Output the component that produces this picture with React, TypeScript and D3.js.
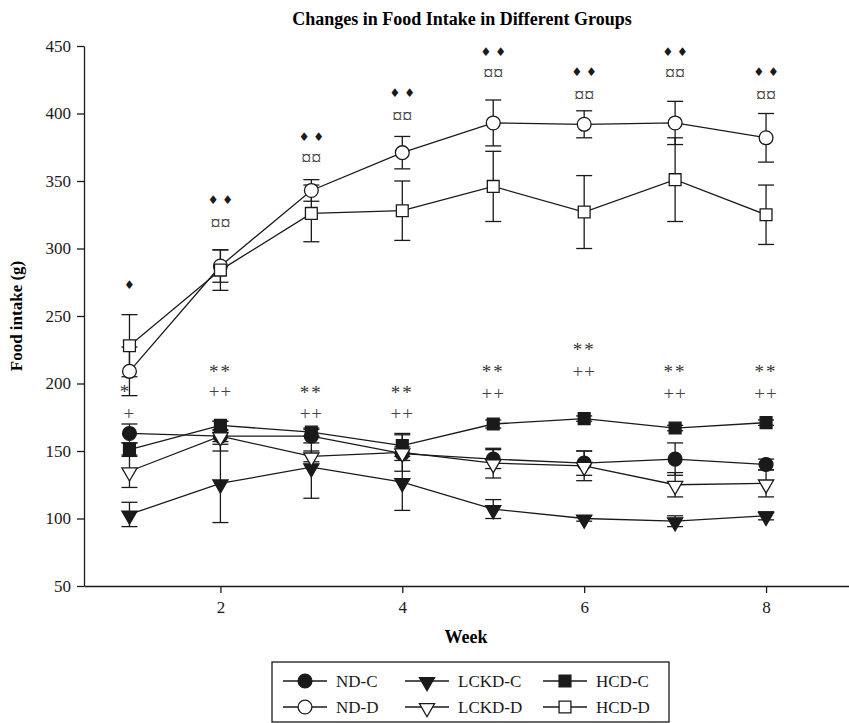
import { useEffect, useRef } from "react";
import * as d3 from "d3";

// weekly food intake (g), mean and error
const weeks = [1, 2, 3, 4, 5, 6, 7, 8];
const ndC = [163, 161, 161, 148, 144, 141, 144, 140];
const ndCErr = [7, 4, 5, 5, 7, 9, 12, 4];
const lckdC = [103, 126, 138, 127, 107, 100, 98, 102];
const lckdCErr = [9, 29, 23, 21, 7, 2, 4, 3];
const hcdC = [151, 169, 164, 154, 170, 174, 167, 171];
const hcdCErr = [5, 3, 3, 8, 3, 2, 2, 2];
const ndD = [209, 287, 343, 371, 393, 392, 393, 382];
const ndDErr = [18, 12, 8, 12, 17, 10, 16, 18];
const lckdD = [135, 161, 146, 149, 141, 139, 125, 126];
const lckdDErr = [12, 11, 4, 14, 11, 11, 9, 10];
const hcdD = [228, 284, 326, 328, 346, 327, 351, 325];
const hcdDErr = [23, 15, 21, 22, 26, 27, 31, 22];

// significance marks above the groups
const diamondText = ["\u2666", "\u2666 \u2666", "\u2666 \u2666", "\u2666 \u2666", "\u2666 \u2666", "\u2666 \u2666", "\u2666 \u2666", "\u2666 \u2666"];
const diamondY = [273, 336, 383, 415, 446, 431, 446, 431];
const currencyText = ["", "\u00a4\u00a4", "\u00a4\u00a4", "\u00a4\u00a4", "\u00a4\u00a4", "\u00a4\u00a4", "\u00a4\u00a4", "\u00a4\u00a4"];
const currencyY = [0, 319, 367, 398, 430, 414, 430, 414];
const starText = ["*", "**", "**", "**", "**", "**", "**", "**"];
const starY = [196, 211, 195, 195, 211, 227, 211, 211];
const plusText = ["+", "++", "++", "++", "++", "++", "++", "++"];
const plusY = [177, 193, 177, 177, 192, 208, 192, 192];

const yTicks = [50, 100, 150, 200, 250, 300, 350, 400, 450];
const xTicks = [2, 4, 6, 8];

const series = [
  { name: "ND-C", values: ndC, err: ndCErr, shape: "circle", filled: true },
  { name: "LCKD-C", values: lckdC, err: lckdCErr, shape: "triangle", filled: true },
  { name: "HCD-C", values: hcdC, err: hcdCErr, shape: "square", filled: true },
  { name: "ND-D", values: ndD, err: ndDErr, shape: "circle", filled: false },
  { name: "LCKD-D", values: lckdD, err: lckdDErr, shape: "triangle", filled: false },
  { name: "HCD-D", values: hcdD, err: hcdDErr, shape: "square", filled: false },
];

const font = "'Liberation Serif', 'Times New Roman', serif";
const ink = "#1a1a1a";

function symbolPath(shape) {
  if (shape === "circle") return d3.symbol(d3.symbolCircle, 150)();
  if (shape === "square") return d3.symbol(d3.symbolSquare, 140)();
  return d3.symbol(d3.symbolTriangle, 100)();
}

function symbolTransform(shape, x, y) {
  return shape === "triangle"
    ? "translate(" + x + "," + (y + 1) + ") rotate(180)"
    : "translate(" + x + "," + y + ")";
}

export default function App() {
  const ref = useRef(null);

  useEffect(() => {
    const width = 849, height = 723;
    const svg = d3.select(ref.current);
    svg.selectAll("*").remove();
    svg.attr("width", width).attr("height", height);

    const x = d3.scaleLinear().domain([0.5, 9]).range([84, 857]);
    const y = d3.scaleLinear().domain([50, 450]).range([586, 46]);

    // title
    svg.append("text")
      .attr("x", 462).attr("y", 25)
      .attr("text-anchor", "middle")
      .style("font-family", font).style("font-weight", "bold").style("font-size", "18px")
      .text("Changes in Food Intake in Different Groups");

    // axes
    const yAxis = svg.append("g")
      .attr("transform", "translate(84,0)")
      .call(d3.axisLeft(y).tickValues(yTicks).tickSize(7).tickSizeOuter(0).tickPadding(6));
    const xAxis = svg.append("g")
      .attr("transform", "translate(0,586)")
      .call(d3.axisBottom(x).tickValues(xTicks).tickSize(7).tickSizeOuter(0).tickPadding(8));
    [yAxis, xAxis].forEach(function (g) {
      g.selectAll("path, line").attr("stroke", ink).attr("stroke-width", 1.3);
      g.selectAll("text").attr("fill", ink)
        .style("font-family", font).style("font-size", "17px");
    });

    svg.append("text")
      .attr("transform", "translate(22,316) rotate(-90)")
      .attr("text-anchor", "middle")
      .style("font-family", font).style("font-weight", "bold").style("font-size", "17px")
      .text("Food intake (g)");
    svg.append("text")
      .attr("x", 466).attr("y", 643)
      .attr("text-anchor", "middle")
      .style("font-family", font).style("font-weight", "bold").style("font-size", "18px")
      .text("Week");

    const line = d3.line()
      .x(function (d, i) { return x(weeks[i]); })
      .y(function (d) { return y(d); });

    const plot = svg.append("g");

    // error bars
    series.forEach(function (s) {
      const g = plot.append("g").attr("stroke", ink).attr("stroke-width", 1.3);
      s.values.forEach(function (v, i) {
        const cx = x(weeks[i]);
        const top = y(v + s.err[i]), bot = y(v - s.err[i]);
        g.append("line").attr("x1", cx).attr("x2", cx).attr("y1", top).attr("y2", bot);
        g.append("line").attr("x1", cx - 8).attr("x2", cx + 8).attr("y1", top).attr("y2", top);
        g.append("line").attr("x1", cx - 8).attr("x2", cx + 8).attr("y1", bot).attr("y2", bot);
      });
    });

    // lines
    series.forEach(function (s) {
      plot.append("path")
        .attr("d", line(s.values))
        .attr("fill", "none").attr("stroke", ink).attr("stroke-width", 1.3);
    });

    // markers
    series.forEach(function (s) {
      plot.selectAll(null)
        .data(s.values)
        .enter()
        .append("path")
        .attr("d", symbolPath(s.shape))
        .attr("transform", function (d, i) { return symbolTransform(s.shape, x(weeks[i]), y(d)); })
        .attr("fill", s.filled ? ink : "#fff")
        .attr("stroke", ink).attr("stroke-width", 1.3);
    });

    // significance marks
    const marks = svg.append("g").attr("text-anchor", "middle").style("font-family", font);
    weeks.forEach(function (w, i) {
      const cx = x(w);
      marks.append("text").attr("x", cx).attr("y", y(diamondY[i])).attr("dy", "0.35em")
        .style("font-family", "'DejaVu Sans', sans-serif").style("font-size", "12px")
        .attr("fill", ink).text(diamondText[i]);
      if (currencyText[i]) {
        marks.append("text").attr("x", cx).attr("y", y(currencyY[i])).attr("dy", "0.35em")
          .style("font-size", "20px").attr("fill", "#333").text(currencyText[i]);
      }
      marks.append("text").attr("x", i === 0 ? cx - 4 : cx).attr("y", y(starY[i])).attr("dy", "0.48em")
        .style("font-size", "19px").style("letter-spacing", "2px").attr("fill", "#333").text(starText[i]);
      marks.append("text").attr("x", cx).attr("y", y(plusY[i])).attr("dy", "0.28em")
        .style("font-size", "19px").style("letter-spacing", "1px").attr("fill", "#444").text(plusText[i]);
    });

    // legend
    const legend = svg.append("g");
    legend.append("rect")
      .attr("x", 272).attr("y", 662).attr("width", 397).attr("height", 60)
      .attr("fill", "#fff").attr("stroke", ink).attr("stroke-width", 1.3);
    const colX = [283, 405, 543];
    const rowY = [681, 707];
    series.forEach(function (s, i) {
      const lx = colX[i % 3], ly = rowY[Math.floor(i / 3)];
      legend.append("line")
        .attr("x1", lx).attr("x2", lx + 44).attr("y1", ly).attr("y2", ly)
        .attr("stroke", ink).attr("stroke-width", 1.3);
      legend.append("path")
        .attr("d", symbolPath(s.shape))
        .attr("transform", symbolTransform(s.shape, lx + 22, ly))
        .attr("fill", s.filled ? ink : "#fff")
        .attr("stroke", ink).attr("stroke-width", 1.3);
      legend.append("text")
        .attr("x", lx + 53).attr("y", ly).attr("dy", "0.35em")
        .style("font-family", font).style("font-size", "17px")
        .attr("fill", ink).text(s.name);
    });
  }, []);

  return (
    <div>
      <style>{"body{margin:0}"}</style>
      <svg ref={ref}></svg>
    </div>
  );
}
